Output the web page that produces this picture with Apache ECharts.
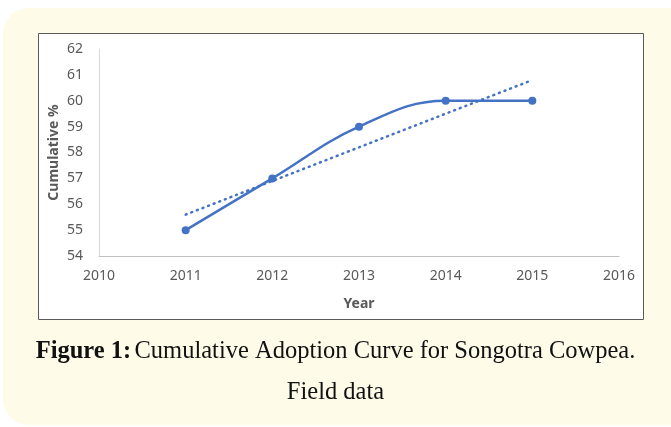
<!DOCTYPE html>
<html>
<head>
<meta charset="utf-8">
<script src="https://cdn.jsdelivr.net/npm/echarts@6/dist/echarts.min.js"></script>
</head>
<body style="margin: 0; background: #fff">
<div id="main" style="width: 671px; height: 427px"></div>
<script>
// values
var years = [2011, 2012, 2013, 2014, 2015];
var cumulative = [55, 57, 59, 60, 60];
var trendYears = [2011, 2015];
var trendValues = [55.6, 60.8];
var yTicks = [54, 55, 56, 57, 58, 59, 60, 61, 62];

var blue = '#4472C4';
var grey = '#595959';

var chart = echarts.init(document.getElementById('main'), null, { renderer: 'canvas' });

var option = {
  animation: false,
  backgroundColor: '#fff',
  graphic: [
    {
      type: 'rect', z: -10, silent: true,
      shape: { x: 3, y: 8, width: 690, height: 417, r: 26 },
      style: { fill: '#FEFBE9' }
    },
    {
      type: 'rect', z: -9, silent: true,
      shape: { x: 38.5, y: 33.5, width: 605, height: 286 },
      style: { fill: '#fff', stroke: '#5a5a5a', lineWidth: 1 }
    },
    {
      type: 'text', left: 'center', top: 339,
      style: {
        rich: {
          b: { fontFamily: 'Liberation Serif', fontWeight: 'bold', fontSize: 24.5, fill: '#111' },
          n: { fontFamily: 'Liberation Serif', fontSize: 24.5, fill: '#111' }
        },
        text: '{b|Figure 1:} {n|Cumulative Adoption Curve for Songotra Cowpea.}'
      }
    },
    {
      type: 'text', left: 'center', top: 380,
      style: { text: 'Field data', fontFamily: 'Liberation Serif', fontSize: 24.5, fill: '#111' }
    }
  ],
  grid: { left: 99, right: 52, top: 49, bottom: 171, containLabel: false },
  xAxis: {
    type: 'value', min: 2010, max: 2016, interval: 1,
    name: 'Year', nameLocation: 'middle', nameGap: 41, nameMoveOverlap: false,
    nameTextStyle: { color: grey, fontWeight: 'bold', fontSize: 14, fontFamily: 'Noto Sans' },
    axisLine: { show: true, lineStyle: { color: '#BFBFBF', width: 1 } },
    axisTick: { show: false },
    splitLine: { show: false },
    axisLabel: { color: grey, fontSize: 14, fontFamily: 'Noto Sans', margin: 13, formatter: function (v) { return String(v); } }
  },
  yAxis: {
    type: 'value', min: yTicks[0], max: yTicks[yTicks.length - 1], interval: 1,
    name: 'Cumulative %', nameLocation: 'middle', nameGap: 38, nameRotate: 90, nameMoveOverlap: false,
    nameTextStyle: { color: grey, fontWeight: 'bold', fontSize: 14, fontFamily: 'Noto Sans' },
    axisLine: { show: true, lineStyle: { color: '#D9D9D9', width: 1 } },
    axisTick: { show: false },
    splitLine: { show: false },
    axisLabel: { color: grey, fontSize: 14, fontFamily: 'Noto Sans', margin: 16 }
  },
  series: [
    {
      type: 'line', name: 'Cumulative',
      data: years.map(function (y, i) { return [y, cumulative[i]]; }),
      smooth: 0.4,
      symbol: 'circle', symbolSize: 8,
      itemStyle: { color: blue },
      lineStyle: { color: blue, width: 2.5 },
      z: 3
    },
    {
      type: 'line', name: 'Trend',
      data: trendYears.map(function (y, i) { return [y, trendValues[i]]; }),
      symbol: 'none',
      lineStyle: { color: blue, width: 2.5, type: [1, 5], cap: 'round' },
      z: 2
    }
  ]
};
chart.setOption(option);
</script>
</body>
</html>
